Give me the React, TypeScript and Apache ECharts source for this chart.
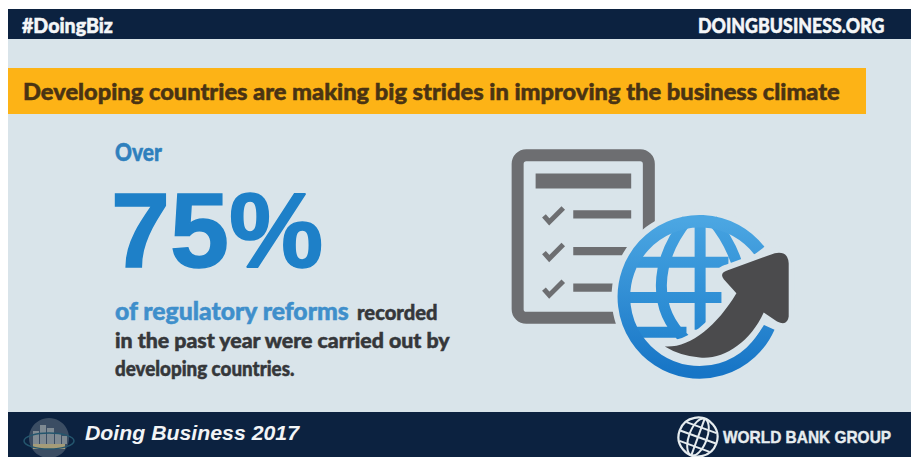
import React, { useEffect, useRef } from "react";
import * as echarts from "echarts";

const hashTag = "#DoingBiz";
const siteName = "DOINGBUSINESS.ORG";
const headline = "Developing countries are making big strides in improving the business climate";
const overLabel = "Over";
const bigFigure = "75%";
const leadBlue = "of regulatory reforms";
const leadDark = "recorded";
const bodyLines = ["in the past year were carried out by", "developing countries."];
const reportName = "Doing Business 2017";
const bankName = "WORLD BANK GROUP";

const BG = "#d9e4ea";
const NAVY = "#0c2240";
const GREY = "#6d6e71";
const SANS = "Lato";
const ARIAL = "Liberation Sans";

const ARROW = "M525,650 C600,655 680,590 740,490 L702,448 Q688,430 712,422 L855,370 Q895,362 897,400 L897,560 Q893,590 862,575 L822,548 C780,640 700,690 630,683 Q570,678 525,650 Z";
const RING = "M837,592 A227,227 0 1 1 809,362.5";
const GRID = "M440,397 L716,397 M405,503 L695,503 M435,607 L590,607 M631,275 L631,600 M592,270 C490,400 490,540 585,628 M668,270 C710,320 735,370 750,430";

echarts.graphic.registerShape("rsArrow", echarts.graphic.extendPath(ARROW, {}) as any);
echarts.graphic.registerShape("rsRing", echarts.graphic.extendPath(RING, {}) as any);
echarts.graphic.registerShape("rsGrid", echarts.graphic.extendPath(GRID, {}) as any);

const txt = (text: string, x: number, y: number, fontSize: number, fill: string, extra: any = {}, scaleX = 1) => ({
  type: "text", x, y, scaleX,
  style: { text, fontSize, fill, stroke: fill, lineWidth: 0.5, fontFamily: SANS, fontWeight: 900, verticalAlign: "middle", align: "left", ...extra },
});

const rect = (x: number, y: number, width: number, height: number, fill: string, r = 0) => ({
  type: "rect", shape: { x, y, width, height, r }, style: { fill },
});

const check = (dy: number) => ({
  type: "polyline",
  shape: { points: [[162, 258 + dy], [178, 276 + dy], [220, 234 + dy]] },
  style: { stroke: GREY, lineWidth: 15, fill: "none" },
});

const ringGradient = () => new echarts.graphic.LinearGradient(0, 0, 0, 1, [
  { offset: 0, color: "#4ba6e2" }, { offset: 1, color: "#1775c6" },
]);

const gridGradient = () => new echarts.graphic.LinearGradient(0, 0, 0, 1, [
  { offset: 0, color: "#45a2e0" }, { offset: 1, color: "#2586d0" },
]);

const icon = {
  type: "group", x: 490, y: 130, scaleX: 1 / 3, scaleY: 1 / 3,
  children: [
    { type: "rect", shape: { x: 83, y: 76, width: 394, height: 488, r: 26 }, style: { fill: "none", stroke: GREY, lineWidth: 36 } },
    rect(137, 131, 287, 45, GREY),
    rect(250, 241, 174, 25, GREY),
    rect(250, 351, 174, 25, GREY),
    rect(250, 461, 174, 25, GREY),
    check(0), check(110), check(220),
    { type: "circle", shape: { cx: 629, cy: 501, r: 264 }, style: { fill: BG } },
    { type: "rsGrid", style: { fill: "none", stroke: gridGradient(), lineWidth: 33 } },
    { type: "rsRing", style: { fill: "none", stroke: ringGradient(), lineWidth: 38 } },
    { type: "rsArrow", style: { fill: BG, stroke: BG, lineWidth: 36, lineJoin: "round" } },
    { type: "rsArrow", style: { fill: "#4b4b4d" } },
  ],
};

const dbBuildings = [[33, 431, 6, 14], [40, 425, 6, 20], [47, 428, 7, 17], [55, 433, 6, 12], [62, 436, 5, 8]];

const dbIcon = {
  type: "group",
  children: [
    { type: "circle", shape: { cx: 49, cy: 438, r: 20 }, style: { fill: "#3b4d63" } },
    ...dbBuildings.map(([x, y, w, h]) => rect(x, y, w, h, "#7f8a92")),
    rect(33, 444, 32, 5, "#a59c78"),
    { type: "ellipse", shape: { cx: 49, cy: 441, rx: 25, ry: 8 }, style: { fill: "none", stroke: "#24566e", lineWidth: 1.5 } },
  ],
};

const W = "#e6ecef";
const wbIcon = {
  type: "group", x: 698, y: 437, rotation: -0.35,
  children: [
    { type: "circle", shape: { cx: 0, cy: 0, r: 19.5 }, style: { fill: "none", stroke: W, lineWidth: 2.2 } },
    { type: "ellipse", shape: { cx: 0, cy: 0, rx: 9, ry: 19.5 }, style: { fill: "none", stroke: W, lineWidth: 2 } },
    { type: "line", shape: { x1: 0, y1: -19, x2: 0, y2: 19 }, style: { stroke: W, lineWidth: 2 } },
    { type: "line", shape: { x1: -19, y1: 0, x2: 19, y2: 0 }, style: { stroke: W, lineWidth: 2 } },
    { type: "line", shape: { x1: -16, y1: -10, x2: 16, y2: -10 }, style: { stroke: W, lineWidth: 2 } },
    { type: "line", shape: { x1: -16, y1: 10, x2: 16, y2: 10 }, style: { stroke: W, lineWidth: 2 } },
  ],
};

export default function App() {
  const ref = useRef<HTMLDivElement>(null);
  useEffect(() => {
    const chart = echarts.init(ref.current!, null, { renderer: "svg" });
    chart.setOption({
      animation: false,
      backgroundColor: "#ffffff",
      graphic: {
        elements: [
          rect(8, 9, 903, 448, BG),
          rect(8, 9, 903, 30, NAVY),
          rect(8, 68, 858, 46, "#fdb316"),
          rect(8, 412, 903, 45, NAVY),
          txt(hashTag, 22, 25, 20, "#f4f6f8", {}, 0.98),
          txt(siteName, 698, 25, 20, "#f4f6f8", {}, 0.89),
          txt(headline, 23, 91, 23, "#4a3313", {}, 1.028),
          txt(overLabel, 115, 152, 24, "#2f80bd", {}, 0.87),
          txt(bigFigure, 111, 230, 106, "#1e80c8", { fontFamily: ARIAL, fontWeight: 700, lineWidth: 1.5 }),
          txt(leadBlue, 115, 311, 24, "#3f8fcb", {}, 1.03),
          txt(leadDark, 357, 312, 21, "#35373a", {}, 0.96),
          txt(bodyLines[0], 115, 340, 21, "#35373a", {}, 1.015),
          txt(bodyLines[1], 115, 368, 20, "#35373a", {}, 0.94),
          icon,
          dbIcon,
          txt(reportName, 85, 433, 21, "#f2f4f6", { fontFamily: ARIAL, fontWeight: 700, fontStyle: "italic", lineWidth: 0 }, 1.014),
          wbIcon,
          txt(bankName, 723, 437, 16, "#e6ecef", { fontFamily: ARIAL, fontWeight: 700, lineWidth: 0.4 }, 0.965),
        ],
      },
    });
    return () => chart.dispose();
  }, []);
  return <div ref={ref} style={{ position: "absolute", left: 0, top: 0, width: 911, height: 457 }} />;
}
